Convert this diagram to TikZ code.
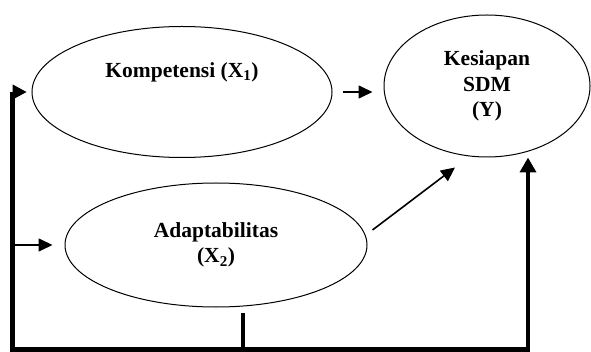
\documentclass[tikz,border=0pt]{standalone}
\usepackage{fontspec}
\setmainfont{Liberation Serif}
\usepackage{tikz}
\usetikzlibrary{calc, shapes.geometric, arrows.meta}
\tikzstyle{var}      = [ellipse, draw=black, line width=1pt, inner sep=0pt, align=center, font=\fontsize{21.5}{25.5}\selectfont\bfseries]
\tikzstyle{lbl}      = [inner sep=0pt, font=\fontsize{21.5}{25.5}\selectfont\bfseries]
\tikzstyle{arrow}    = [line width=1.6pt, -{Triangle[length=14pt,width=13pt]}]
\tikzstyle{bar}      = [line width=4.5pt]
\tikzstyle{bararrow} = [line width=4.5pt, -{Triangle[length=15pt,width=16pt]}]

\begin{document}
\begin{tikzpicture}[x=1pt, y=-1pt]
  \useasboundingbox (0,0) rectangle (591,352);
  \node[var, minimum width=300pt, minimum height=131pt] (Komp) at (182,92) {};
  \node[lbl] (KompText) at (182,72) {Kompetensi (X\textsubscript{1})};
  \node[var, minimum width=206pt, minimum height=142pt] (Kesiapan) at (487,86) {Kesiapan\\SDM\\(Y)};
  \node[var, minimum width=302pt, minimum height=124pt] (Adapt) at (216,245) {Adaptabilitas\\(X\textsubscript{2})};
  \coordinate (TopLeft) at (12.5,92);
  \coordinate (BotLeft) at (12.5,349.5);
  \coordinate (BotRight) at (528,349.5);
  \coordinate (Stub) at ($(Adapt.south)+(27,5)$);
  % frame of thick lines
  \draw[bararrow] (TopLeft) -- (BotLeft) -- (BotRight) -- (BotRight |- Kesiapan.south);
  \draw[bar] (Stub) -- (Stub |- BotLeft);
  \draw[line width=1pt, -{Triangle[length=14pt,width=15pt]}] (TopLeft) -- ($(Komp.west)+(-5,0)$);
  % thin arrows
  \draw[arrow, shorten <=10pt, shorten >=11pt] (Komp.east) -- (Komp.east -| Kesiapan.west);
  \draw[arrow, shorten <=2pt, shorten >=12pt] (TopLeft |- Adapt.west) -- (Adapt.west);
  \draw[arrow] ($(Adapt.east)+(5,-15)$) -- ($(Kesiapan.south)+(-32,10)$);
\end{tikzpicture}
\end{document}
